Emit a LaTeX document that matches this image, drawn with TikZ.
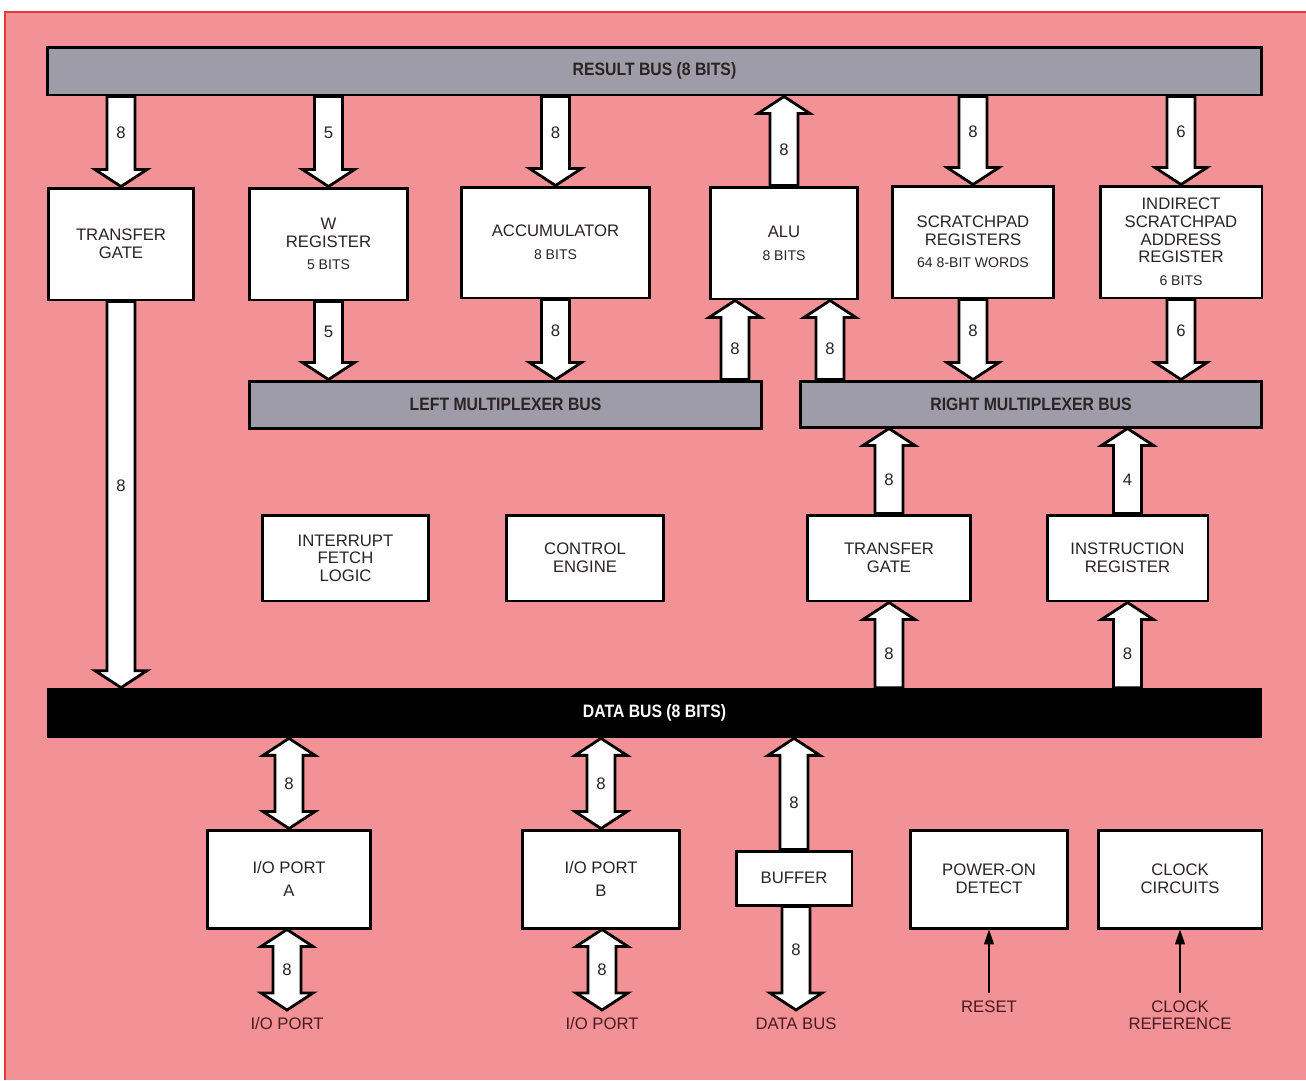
\documentclass[tikz,border=0pt]{standalone}
\usepackage{fontspec}
\setmainfont{Liberation Sans}
\newfontfamily\busfont{Liberation Sans}[FakeStretch=0.88]
\usepackage{xcolor}
\definecolor{pinkbg}{HTML}{F29296}
\definecolor{framered}{HTML}{E53935}
\definecolor{busgray}{HTML}{9E9CA8}
\definecolor{inkdark}{HTML}{2B2424}
\definecolor{inkmaroon}{HTML}{4A1A1E}
\usetikzlibrary{arrows.meta, calc}
\tikzset{
  unitbox/.style ={rectangle, draw=black, line width=1.7pt, fill=white, text=inkdark, align=center,
                   inner sep=0pt, font=\fontsize{9.5}{10}\selectfont},
  busbar/.style  ={rectangle, draw=black, line width=1.7pt, fill=busgray, text=inkdark, inner sep=0pt,
                   font=\busfont\bfseries\fontsize{10.2}{11}\selectfont},
  databar/.style ={rectangle, fill=black, text=white, inner sep=0pt,
                   font=\busfont\bfseries\fontsize{10.2}{11}\selectfont},
  fatarr/.style  ={draw=black, fill=white, line width=1.6pt, line join=miter},
  bitlbl/.style  ={font=\fontsize{9.5}{10}\selectfont, text=inkdark, inner sep=0pt},
  sigarr/.style  ={-{Triangle[length=3mm, width=2mm]}, line width=1pt, color=black},
  outlbl/.style  ={font=\fontsize{9.5}{10}\selectfont, text=inkmaroon, align=center, inner sep=4pt},
}
% fat bus arrows: shaft half width, head half width, head length
\newcommand{\shw}{0.28cm}
\newcommand{\hhw}{0.52cm}
\newcommand{\hl}{0.34cm}
% #1 tail, #2 tip, #3 number of lines
\newcommand{\fatarrow}[3]{%
  \path[fatarr] let \p1=(#1), \p2=(#2), \n1={ifthenelse(\y2>\y1,1,-1)} in
    ({\x2-\shw},\y1) -- ({\x2-\shw},{\y2-(\n1)*\hl}) -- ({\x2-\hhw},{\y2-(\n1)*\hl}) -- (\x2,\y2)
    -- ({\x2+\hhw},{\y2-(\n1)*\hl}) -- ({\x2+\shw},{\y2-(\n1)*\hl}) -- ({\x2+\shw},\y1) -- cycle
    (\x2,{0.5*\y1+0.5*\y2-0.5*(\n1)*\hl}) node[bitlbl] {#3};}
\newcommand{\dblarrow}[3]{%
  \path[fatarr] let \p1=(#1), \p2=(#2), \n1={ifthenelse(\y2>\y1,1,-1)} in
    (\x2,\y1) -- ({\x2+\hhw},{\y1+(\n1)*\hl}) -- ({\x2+\shw},{\y1+(\n1)*\hl})
    -- ({\x2+\shw},{\y2-(\n1)*\hl}) -- ({\x2+\hhw},{\y2-(\n1)*\hl}) -- (\x2,\y2)
    -- ({\x2-\hhw},{\y2-(\n1)*\hl}) -- ({\x2-\shw},{\y2-(\n1)*\hl})
    -- ({\x2-\shw},{\y1+(\n1)*\hl}) -- ({\x2-\hhw},{\y1+(\n1)*\hl}) -- cycle
    (\x2,{0.5*\y1+0.5*\y2}) node[bitlbl] {#3};}

\begin{document}
\begin{tikzpicture}[x=0.02cm, y=-0.02cm]
  \useasboundingbox (0,0) rectangle (1306,1080);
  \fill[white] (0,0) rectangle (1306,1080);
  \fill[pinkbg] (5,12) rectangle (1306,1080);
  \draw[framered, line width=1.2pt] (5,1080) -- (5,12) -- (1306,12);

  % buses
  \node[busbar, minimum width=24.3cm, minimum height=0.96cm] (rbus) at (654.5,71) {RESULT BUS (8 BITS)};
  \node[busbar, minimum width=10.26cm, minimum height=0.94cm] (lmux) at (505.5,404.5) {LEFT MULTIPLEXER BUS};
  \node[busbar, minimum width=9.24cm, minimum height=0.92cm] (rmux) at (1031,404) {RIGHT MULTIPLEXER BUS};
  \node[databar, minimum width=24.3cm, minimum height=1.0cm] (dbus) at (654.5,713) {DATA BUS (8 BITS)};

  % registers and units
  \node[unitbox, minimum width=2.92cm, minimum height=2.24cm] (tgA) at (121,244) {TRANSFER\\GATE};
  \node[unitbox, minimum width=3.18cm, minimum height=2.24cm] (wreg) at (328.5,244)
    {W\\REGISTER\\[3pt]\fontsize{8}{9}\selectfont 5 BITS};
  \node[unitbox, minimum width=3.78cm, minimum height=2.22cm] (acc) at (555.5,242.5)
    {ACCUMULATOR\\[3pt]\fontsize{8}{9}\selectfont 8 BITS};
  \node[unitbox, minimum width=2.96cm, minimum height=2.24cm] (alu) at (784,243)
    {ALU\\[3pt]\fontsize{8}{9}\selectfont 8 BITS};
  \node[unitbox, minimum width=3.24cm, minimum height=2.24cm] (spad) at (973,242)
    {SCRATCHPAD\\REGISTERS\\[3pt]\fontsize{8}{9}\selectfont 64 8-BIT WORDS};
  \node[unitbox, minimum width=3.24cm, minimum height=2.24cm] (isar) at (1181,242)
    {INDIRECT\\SCRATCHPAD\\ADDRESS\\REGISTER\\[3pt]\fontsize{8}{9}\selectfont 6 BITS};

  \node[unitbox, minimum width=3.34cm, minimum height=1.72cm] (ifl) at (345.5,558) {INTERRUPT\\FETCH\\LOGIC};
  \node[unitbox, minimum width=3.16cm, minimum height=1.72cm] (ceng) at (585,558) {CONTROL\\ENGINE};
  \node[unitbox, minimum width=3.28cm, minimum height=1.72cm] (tgB) at (889,558) {TRANSFER\\GATE};
  \node[unitbox, minimum width=3.22cm, minimum height=1.72cm] (ireg) at (1127.5,558) {INSTRUCTION\\REGISTER};

  \node[unitbox, minimum width=3.28cm, minimum height=1.96cm] (ioa) at (289,879) {I/O PORT\\[3pt]A};
  \node[unitbox, minimum width=3.16cm, minimum height=1.96cm] (iob) at (601,879) {I/O PORT\\[3pt]B};
  \node[unitbox, minimum width=2.32cm, minimum height=1.08cm] (buf) at (794,878) {BUFFER};
  \node[unitbox, minimum width=3.16cm, minimum height=1.96cm] (pod) at (989,879) {POWER-ON\\DETECT};
  \node[unitbox, minimum width=3.28cm, minimum height=1.96cm] (clk) at (1180,879) {CLOCK\\CIRCUITS};

  % ALU inputs
  \coordinate (aluinL) at ([xshift=-0.98cm]alu.south);
  \coordinate (aluinR) at ([xshift=0.92cm]alu.south);

  % outside connections
  \node[outlbl, anchor=north] (ioalbl) at (287,1010) {I/O PORT};
  \node[outlbl, anchor=north] (ioblbl) at (602,1010) {I/O PORT};
  \node[outlbl, anchor=north] (extdbus) at (796,1010) {DATA BUS};
  \node[outlbl, anchor=north] (reset) at (989,993) {RESET};
  \node[outlbl, anchor=north] (clkref) at (1180,993) {CLOCK\\REFERENCE};

  % result bus
  \fatarrow{rbus.south -| tgA}{tgA.north}{8}
  \fatarrow{rbus.south -| wreg}{wreg.north}{5}
  \fatarrow{rbus.south -| acc}{acc.north}{8}
  \fatarrow{alu.north}{rbus.south -| alu}{8}
  \fatarrow{rbus.south -| spad}{spad.north}{8}
  \fatarrow{rbus.south -| isar}{isar.north}{6}

  % multiplexer buses
  \fatarrow{wreg.south}{lmux.north -| wreg}{5}
  \fatarrow{acc.south}{lmux.north -| acc}{8}
  \fatarrow{lmux.north -| aluinL}{aluinL}{8}
  \fatarrow{rmux.north -| aluinR}{aluinR}{8}
  \fatarrow{spad.south}{rmux.north -| spad}{8}
  \fatarrow{isar.south}{rmux.north -| isar}{6}
  \fatarrow{tgB.north}{rmux.south -| tgB}{8}
  \fatarrow{ireg.north}{rmux.south -| ireg}{4}

  % data bus
  \fatarrow{tgA.south}{dbus.north -| tgA}{8}
  \fatarrow{dbus.north -| tgB}{tgB.south}{8}
  \fatarrow{dbus.north -| ireg}{ireg.south}{8}
  \dblarrow{dbus.south -| ioa}{ioa.north}{8}
  \dblarrow{ioa.south}{ioalbl.north}{8}
  \dblarrow{dbus.south -| iob}{iob.north}{8}
  \dblarrow{iob.south}{ioblbl.north}{8}
  \fatarrow{buf.north}{dbus.south -| buf}{8}
  \fatarrow{buf.south}{extdbus.north}{8}

  \draw[sigarr] (reset.north) -- (pod.south);
  \draw[sigarr] (clkref.north) -- (clk.south);
\end{tikzpicture}
\end{document}
